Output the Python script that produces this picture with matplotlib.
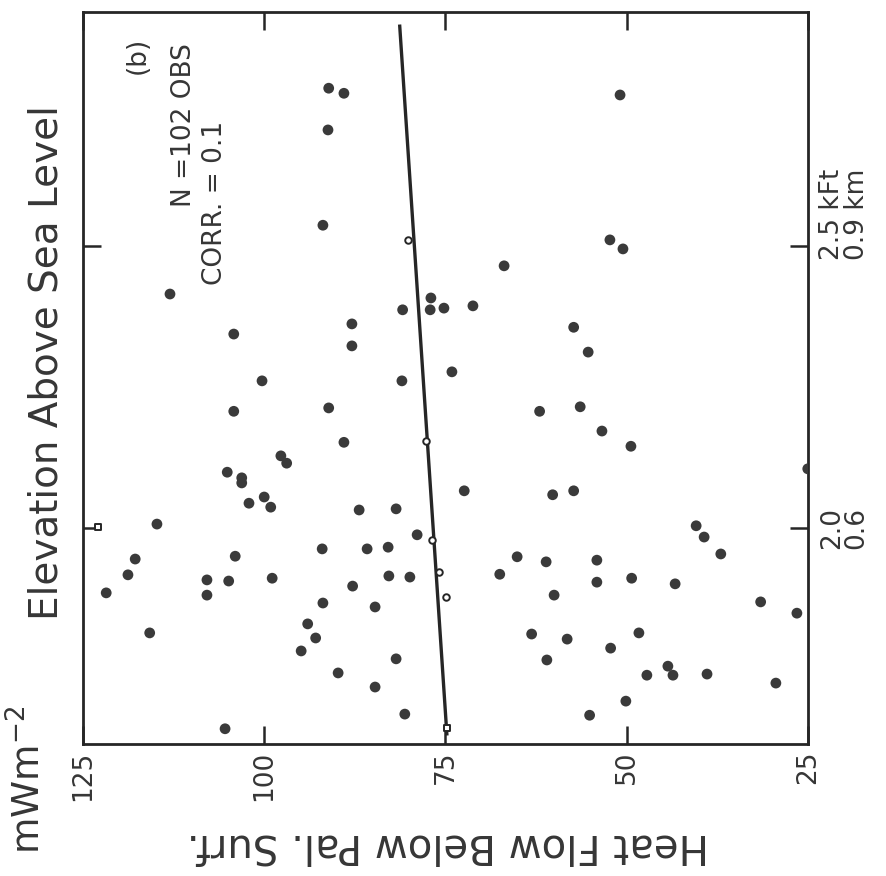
import matplotlib.pyplot as plt
from matplotlib import transforms

# heat flow (mW m^-2) and elevation (kFt)
heat_flow = [91.1, 89.0, 91.2, 50.9, 91.9, 52.3, 50.5, 66.9, 113.0, 77.0,
             80.9, 77.1, 75.2, 71.2, 104.2, 87.9, 87.9, 57.3, 55.3, 74.1,
             81.0, 100.3, 104.2, 91.1, 62.0, 56.4, 89.0, 53.4, 49.4, 97.7,
             96.9, 105.1, 103.1, 103.1, 100.0, 102.1, 99.1, 72.4, 60.2, 57.3,
             86.9, 81.8, 114.8, 78.9, 40.4, 39.3, 37.0, 92.0, 85.8, 82.9,
             104.0, 117.8, 65.1, 61.1, 54.1, 67.5, 82.8, 79.9, 98.9, 107.9,
             104.9, 118.8, 54.1, 49.3, 43.3, 87.8, 121.8, 107.9, 60.0, 91.9,
             84.7, 31.5, 26.5, 94.0, 115.8, 92.9, 63.1, 58.2, 48.3, 52.2,
             94.9, 81.8, 61.0, 44.3, 89.8, 47.2, 43.6, 38.9, 29.4, 84.7,
             50.1, 80.6, 55.1, 105.4, 25.0]
elevation = [2.780, 2.771, 2.706, 2.768, 2.537, 2.511, 2.495, 2.465, 2.415, 2.408,
             2.387, 2.387, 2.390, 2.394, 2.344, 2.362, 2.323, 2.356, 2.312, 2.277,
             2.261, 2.261, 2.207, 2.213, 2.207, 2.215, 2.152, 2.172, 2.145, 2.128,
             2.115, 2.099, 2.089, 2.080, 2.055, 2.044, 2.037, 2.066, 2.059, 2.066,
             2.032, 2.034, 2.007, 1.988, 2.004, 1.984, 1.954, 1.963, 1.963, 1.966,
             1.950, 1.945, 1.949, 1.940, 1.943, 1.918, 1.915, 1.913, 1.911, 1.908,
             1.906, 1.917, 1.904, 1.911, 1.901, 1.897, 1.885, 1.881, 1.881, 1.867,
             1.860, 1.869, 1.849, 1.830, 1.814, 1.805, 1.812, 1.803, 1.814, 1.787,
             1.782, 1.768, 1.766, 1.755, 1.743, 1.739, 1.739, 1.741, 1.725, 1.718,
             1.693, 1.670, 1.668, 1.644, 2.105]

# points that sit on the fitted line (drawn hollow in the scan)
line_pts_heat = [80.2, 77.7, 76.9, 75.9, 74.9]
line_pts_elev = [2.511, 2.154, 1.979, 1.922, 1.878]
box_pts_heat = [122.9, 74.8]
box_pts_elev = [2.002, 1.645]

fit_heat = [74.8, 81.3]
fit_elev = [1.635, 2.89]

heat_ticks = [125, 100, 75, 50, 25]
heat_labels = ['125', '100', '75', '50', '25']
elev_ticks = [2.0, 2.5]
elev_labels = ['2.0\n0.6', '2.5 kFt\n0.9 km']

ink = '#262626'
txt = '#363636'
plt.rcParams['font.family'] = ['DejaVu Sans']

fig = plt.figure(figsize=(8.86, 8.76), dpi=100, facecolor='white')
ax = fig.add_axes([0.0937, 0.1507, 0.818, 0.8355])

ax.plot(fit_heat, fit_elev, color=ink, linewidth=2.4, zorder=3)
ax.scatter(heat_flow, elevation, s=60, color='#3a3a3a', edgecolors='none', zorder=4)
ax.scatter(line_pts_heat, line_pts_elev, s=22, facecolors='white',
           edgecolors=ink, linewidths=1.4, zorder=5)
ax.scatter(box_pts_heat, box_pts_elev, s=18, marker='s', facecolors='white',
           edgecolors=ink, linewidths=1.4, zorder=5)

ax.set_xlim(125, 25)
ax.set_ylim(1.617, 2.915)

for s in ax.spines.values():
    s.set_linewidth(2.0)
    s.set_color(ink)

ax.set_xticks(heat_ticks)
ax.set_xticklabels(heat_labels, rotation=90, fontsize=19, color=txt)
ax.set_yticks(elev_ticks)
ax.set_yticklabels([])
ax.tick_params(axis='both', direction='in', length=13, width=1.8, color=ink,
               top=True, right=True, pad=5)

# right-hand elevation labels (rotated with the page)
trans = ax.get_yaxis_transform()
for v, lab in zip(elev_ticks, elev_labels):
    has_unit = 'k' in lab
    off = transforms.offset_copy(trans, fig=fig, x=0, y=-14 if has_unit else 0, units='dots')
    ax.text(1.015, v, lab, transform=off, rotation=90, fontsize=19, color=txt,
            ha='left', va='bottom' if has_unit else 'center',
            multialignment='left', linespacing=0.95)

fig.text(0.052, 0.586, 'Elevation Above Sea Level', rotation=90, fontsize=28,
         color=txt, ha='center', va='center')
fig.text(0.155, 0.937, '(b)', rotation=90, fontsize=19, color=txt,
         ha='center', va='center')
fig.text(0.2077, 0.857, 'N =102 OBS', rotation=90, fontsize=19, color=txt,
         ha='center', va='center')
fig.text(0.2427, 0.768, 'CORR. = 0.1', rotation=90, fontsize=19, color=txt,
         ha='center', va='center')
fig.text(0.033, 0.11, r'mWm$^{-2}$', rotation=90, fontsize=27, color=txt,
         ha='center', va='center')
fig.text(0.505, 0.035, 'Heat Flow Below Pal. Surf.', rotation=180, fontsize=29,
         color=txt, ha='center', va='center')

fig.savefig('out.png', dpi=100, facecolor='white')
